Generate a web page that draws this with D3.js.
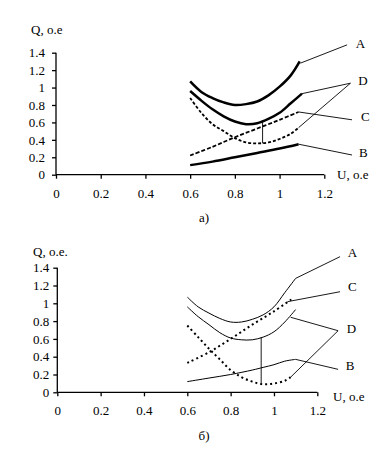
<!DOCTYPE html>
<html lang="ru">
<head>
<meta charset="UTF-8">
<title>Q(U) curves</title>
<script src="https://d3js.org/d3.v7.min.js"></script>
<style>
    body { margin: 0; background: #fff; }
    svg text { font-family: "Liberation Serif", "Times New Roman", serif; font-size: 13px; fill: #000; }
    .axis path, .axis line { stroke: #000; stroke-width: 1.3px; }
    .leader { fill: none; stroke: #000; stroke-width: 0.9px; }
</style>
</head>
<body>
<svg id="chart" width="379" height="458" font-family="Liberation Serif, serif" font-size="13"></svg>
<script>
// tick values (both panels)
var xTicks = [0, 0.2, 0.4, 0.6, 0.8, 1, 1.2];
var yTicks = [0, 0.2, 0.4, 0.6, 0.8, 1, 1.2, 1.4];

// ---- panel а) ----
var aCurveA = [[0.6,1.07],[0.65,0.95],[0.7,0.88],[0.75,0.83],[0.8,0.80],[0.85,0.81],[0.9,0.84],[0.95,0.91],[1.0,1.01],[1.05,1.14],[1.09,1.30]];
var aCurveD = [[0.6,0.96],[0.65,0.85],[0.7,0.75],[0.75,0.67],[0.8,0.61],[0.85,0.58],[0.9,0.59],[0.95,0.64],[1.0,0.71],[1.05,0.82],[1.1,0.93]];
var aCurveDdash = [[0.6,0.88],[0.65,0.71],[0.7,0.58],[0.75,0.50],[0.8,0.42],[0.85,0.37],[0.9,0.36],[0.95,0.37],[1.0,0.41],[1.05,0.47],[1.085,0.54]];
var aCurveC = [[0.6,0.22],[0.7,0.32],[0.8,0.43],[0.9,0.53],[1.0,0.63],[1.085,0.72]];
var aCurveB = [[0.6,0.11],[0.7,0.15],[0.8,0.20],[0.9,0.25],[1.0,0.30],[1.085,0.35]];
var aVertical = [[0.924,0.62],[0.924,0.36]];
var aLeaders = [
    [[1.093,1.28],[1.302,1.49]],
    [[1.1,0.93],[1.317,1.05]],
    [[1.085,0.54],[1.317,1.05]],
    [[1.085,0.72],[1.324,0.63]],
    [[1.085,0.35],[1.324,0.226]]
];
var aLabels = [["A",1.362,1.51],["D",1.373,1.087],["C",1.384,0.666],["B",1.375,0.253]];

// ---- panel б) ----
var bCurveA = [[0.6,1.07],[0.65,0.96],[0.7,0.89],[0.75,0.83],[0.8,0.79],[0.85,0.79],[0.9,0.82],[0.95,0.87],[1.0,0.96],[1.05,1.12],[1.1,1.28]];
var bCurveD = [[0.6,0.96],[0.65,0.85],[0.7,0.76],[0.75,0.67],[0.8,0.61],[0.85,0.59],[0.9,0.59],[0.95,0.62],[1.0,0.68],[1.05,0.79],[1.1,0.93]];
var bCurveDdash = [[0.6,0.75],[0.65,0.62],[0.7,0.49],[0.75,0.37],[0.8,0.25],[0.85,0.17],[0.9,0.12],[0.95,0.09],[1.0,0.10],[1.05,0.13],[1.077,0.17]];
var bCurveC = [[0.6,0.33],[0.7,0.45],[0.8,0.60],[0.9,0.76],[1.0,0.91],[1.09,1.06]];
var bCurveB = [[0.6,0.12],[0.7,0.16],[0.8,0.20],[0.9,0.25],[0.95,0.28],[1.0,0.31],[1.05,0.35],[1.1,0.37]];
var bVertical = [[0.941,0.618],[0.941,0.09]];
var bLeaders = [
    [[1.1,1.28],[1.305,1.524]],
    [[1.077,0.843],[1.296,0.692]],
    [[1.077,0.17],[1.296,0.692]],
    [[1.062,1.018],[1.305,1.13]],
    [[1.1,0.37],[1.296,0.258]]
];
var bLabels = [["A",1.362,1.569],["C",1.362,1.187],["D",1.358,0.719],["B",1.351,0.307]];

var svg = d3.select("#chart");

function drawPanel(cfg) {
    var x = d3.scaleLinear().domain([0, 1.2]).range(cfg.xr);
    var y = d3.scaleLinear().domain([0, 1.4]).range(cfg.yr);
    var g = svg.append("g");
    var fmt = d => String(+d.toFixed(1));

    g.append("g").attr("class", "axis")
        .attr("transform", "translate(0," + cfg.yr[0] + ")")
        .call(d3.axisBottom(x).tickValues(xTicks).tickFormat(fmt).tickSize(4).tickSizeOuter(0).tickPadding(cfg.xPad))
        .call(a => a.select(".domain").attr("d", "M" + cfg.xr[0] + ",0H" + cfg.xr[1]));
    g.append("g").attr("class", "axis")
        .attr("transform", "translate(" + cfg.xr[0] + ",0)")
        .call(d3.axisLeft(y).tickValues(yTicks).tickFormat(fmt).tickSize(4).tickSizeOuter(0).tickPadding(cfg.yPad))
        .call(a => a.select(".domain").attr("d", "M0," + cfg.yr[0] + "V" + cfg.yr[1]));
    // drop d3's sans-serif default so the serif font applies
    g.selectAll(".axis").attr("font-family", "Liberation Serif, serif").attr("font-size", 13);

    var line = d3.line().x(d => x(d[0])).y(d => y(d[1])).curve(d3.curveCatmullRom.alpha(0.5));
    var straight = d3.line().x(d => x(d[0])).y(d => y(d[1]));

    cfg.curves.forEach(function(c) {
        g.append("path").datum(c.data)
            .attr("d", line)
            .attr("fill", "none")
            .attr("stroke", "#000")
            .attr("stroke-width", c.w)
            .attr("stroke-dasharray", c.dash || null);
    });
    g.append("path").datum(cfg.vertical).attr("class", "leader").attr("d", straight);
    g.selectAll(".ld").data(cfg.leaders).enter().append("path")
        .attr("class", "leader").attr("d", straight);
    g.selectAll(".lbl").data(cfg.labels).enter().append("text")
        .attr("x", d => x(d[1]))
        .attr("y", d => y(d[2]))
        .attr("dy", "0.35em")
        .attr("text-anchor", "middle")
        .text(d => d[0]);

    g.append("text").attr("x", cfg.qPos[0]).attr("y", cfg.qPos[1]).text(cfg.qText);
    g.append("text").attr("x", cfg.uPos[0]).attr("y", cfg.uPos[1]).text("U, o.e");
    g.append("text").attr("x", cfg.capPos[0]).attr("y", cfg.capPos[1])
        .attr("text-anchor", "middle").text(cfg.caption);
}

drawPanel({
    xr: [56, 324.3], yr: [174.7, 52.7], xPad: 10, yPad: 7,
    curves: [
        { data: aCurveA, w: 2.5 },
        { data: aCurveD, w: 2.5 },
        { data: aCurveDdash, w: 1.8, dash: "3,2" },
        { data: aCurveC, w: 1.8, dash: "4,2" },
        { data: aCurveB, w: 2.5 }
    ],
    vertical: aVertical, leaders: aLeaders, labels: aLabels,
    qText: "Q, o.e", qPos: [31, 34], uPos: [337, 179], caption: "а)", capPos: [204, 222]
});

drawPanel({
    xr: [57.3, 317.3], yr: [392.3, 267.7], xPad: 9, yPad: 4,
    curves: [
        { data: bCurveA, w: 1 },
        { data: bCurveD, w: 1 },
        { data: bCurveDdash, w: 2, dash: "2,3" },
        { data: bCurveC, w: 2, dash: "2,3" },
        { data: bCurveB, w: 1 }
    ],
    vertical: bVertical, leaders: bLeaders, labels: bLabels,
    qText: "Q, o.e.", qPos: [33, 256], uPos: [333, 401], caption: "б)", capPos: [204, 440]
});
</script>
</body>
</html>
